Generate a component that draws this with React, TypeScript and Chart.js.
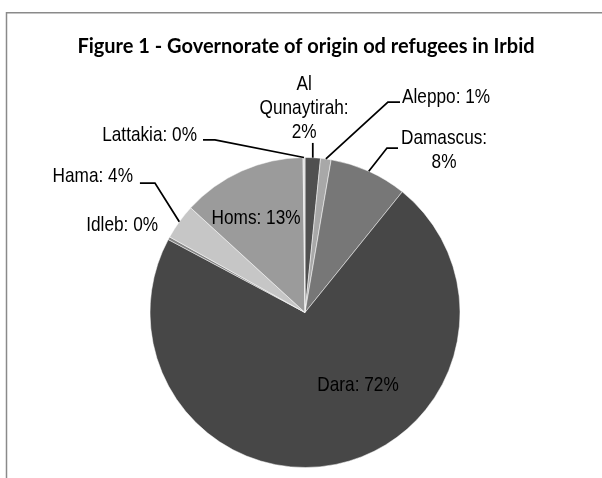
import React, { useEffect, useRef } from "react";
import { Chart, registerables } from "chart.js";

Chart.register(...registerables);

// ---- data ----
const categories = ["Al Qunaytirah", "Aleppo", "Damascus", "Dara", "Idleb", "Hama", "Homs", "Lattakia"];
const shares = [1.6, 1.1, 8.1, 72.0, 0.3, 3.7, 13.0, 0.2];
const sliceColors = ["#505050", "#a8a8a8", "#777777", "#474747", "#858585", "#c6c6c6", "#9b9b9b", "#dadada"];
const titleText = "Figure 1 - Governorate of origin od refugees in Irbid";

// ---- label layout (style only; units of pie radius relative to pie centre) ----
type Layout = {
  ax: number;
  ay: number;
  align: CanvasTextAlign;
  split: "none" | "pct" | "all";
  leader?: [number, number][];
};
const labelLayout: Layout[] = [
  { ax: -0.006, ay: -1.319, align: "center", split: "all", leader: [[NaN, -1.094]] },
  { ax: 0.626, ay: -1.39, align: "left", split: "none", leader: [[0.535, -1.358], [0.613, -1.358]] },
  { ax: 0.897, ay: -1.048, align: "center", split: "pct", leader: [[0.529, -1.061], [0.6, -1.061]] },
  { ax: 0.342, ay: 0.468, align: "center", split: "none" },
  { ax: -0.948, ay: -0.565, align: "right", split: "none" },
  { ax: -1.11, ay: -0.881, align: "right", split: "none", leader: [[-0.968, -0.835], [-1.065, -0.835]] },
  { ax: -0.316, ay: -0.61, align: "center", split: "none" },
  { ax: -0.697, ay: -1.145, align: "right", split: "none", leader: [[-0.581, -1.113], [-0.658, -1.113]] },
];

const LABEL_SIZE = 21;
const LINE_H = 24;

const decorPlugin = {
  id: "decor",
  beforeDraw(chart: any) {
    const ctx = chart.ctx as CanvasRenderingContext2D;
    ctx.save();
    ctx.fillStyle = "#ffffff";
    ctx.fillRect(0, 0, chart.width, chart.height);
    ctx.strokeStyle = "#8a8a8a";
    ctx.lineWidth = 1.5;
    ctx.beginPath();
    ctx.moveTo(6.5, chart.height);
    ctx.lineTo(6.5, 12.75);
    ctx.lineTo(chart.width, 12.75);
    ctx.stroke();
    // title
    ctx.fillStyle = "#000000";
    ctx.font = 'bold 20px Lato, "Open Sans", sans-serif';
    ctx.textAlign = "center";
    ctx.textBaseline = "middle";
    ctx.fillText(titleText, 306, 46.5);
    ctx.restore();
  },
  afterDatasetsDraw(chart: any) {
    const ctx = chart.ctx as CanvasRenderingContext2D;
    const meta = chart.getDatasetMeta(0);
    const data = chart.data.datasets[0].data as number[];
    const total = data.reduce((a: number, b: number) => a + b, 0);
    ctx.save();
    // choose a condensed face (Arial Narrow look)
    let family = '"Liberation Sans Narrow"';
    let sx = 1;
    ctx.font = `${LABEL_SIZE}px "Liberation Sans Narrow", "Liberation Sans"`;
    const wN = ctx.measureText("Lattakia: 0%").width;
    ctx.font = `${LABEL_SIZE}px "Liberation Sans"`;
    const wR = ctx.measureText("Lattakia: 0%").width;
    if (wN / wR > 0.9) {
      family = '"Liberation Sans"';
      sx = 0.82;
    }
    ctx.font = `${LABEL_SIZE}px ${family}`;
    ctx.textBaseline = "middle";
    meta.data.forEach((arc: any, i: number) => {
      const lay = labelLayout[i];
      if (!lay) return;
      const p = arc.getProps(["x", "y", "startAngle", "endAngle", "outerRadius"], true);
      const R = p.outerRadius;
      const mid = (p.startAngle + p.endAngle) / 2;
      const ex = p.x + Math.cos(mid) * R;
      const ey = p.y + Math.sin(mid) * R;
      if (lay.leader) {
        ctx.strokeStyle = "#000000";
        ctx.lineWidth = 1.75;
        ctx.lineJoin = "miter";
        ctx.beginPath();
        ctx.moveTo(ex, ey);
        lay.leader.forEach(([fx, fy]) => {
          const lx = isNaN(fx) ? ex : p.x + fx * R;
          ctx.lineTo(lx, p.y + fy * R);
        });
        ctx.stroke();
      }
      const pct = Math.round((data[i] / total) * 100) + "%";
      const name = categories[i] + ":";
      let lines: string[];
      if (lay.split === "all") lines = [...name.split(" "), pct];
      else if (lay.split === "pct") lines = [name, pct];
      else lines = [name + " " + pct];
      const ax = p.x + lay.ax * R;
      const ay = p.y + lay.ay * R;
      ctx.fillStyle = "#000000";
      ctx.textAlign = lay.align;
      lines.forEach((t, k) => {
        const ly = ay + (k - (lines.length - 1) / 2) * LINE_H;
        ctx.save();
        ctx.translate(ax, ly);
        ctx.scale(sx, 1);
        ctx.fillText(t, 0, 0);
        ctx.restore();
      });
    });
    ctx.restore();
  },
};

export default function App() {
  const ref = useRef<HTMLCanvasElement | null>(null);
  useEffect(() => {
    if (!ref.current) return;
    const chart = new Chart(ref.current, {
      type: "pie",
      data: {
        labels: categories,
        datasets: [
          {
            data: shares,
            backgroundColor: sliceColors,
            borderColor: "#ffffff",
            borderWidth: 0.5,
          },
        ],
      },
      options: {
        responsive: false,
        animation: false,
        layout: { padding: { left: 149.75, right: 141.75, top: 157.25, bottom: 10.25 } },
        plugins: {
          legend: { display: false },
          tooltip: { enabled: false },
          title: { display: false },
        },
      },
      plugins: [decorPlugin],
    });
    return () => chart.destroy();
  }, []);
  return (
    <div style={{ position: "absolute", left: 0, top: 0, width: 602, height: 478, background: "#fff" }}>
      <canvas ref={ref} width={602} height={478} style={{ display: "block", width: 602, height: 478 }} />
    </div>
  );
}
